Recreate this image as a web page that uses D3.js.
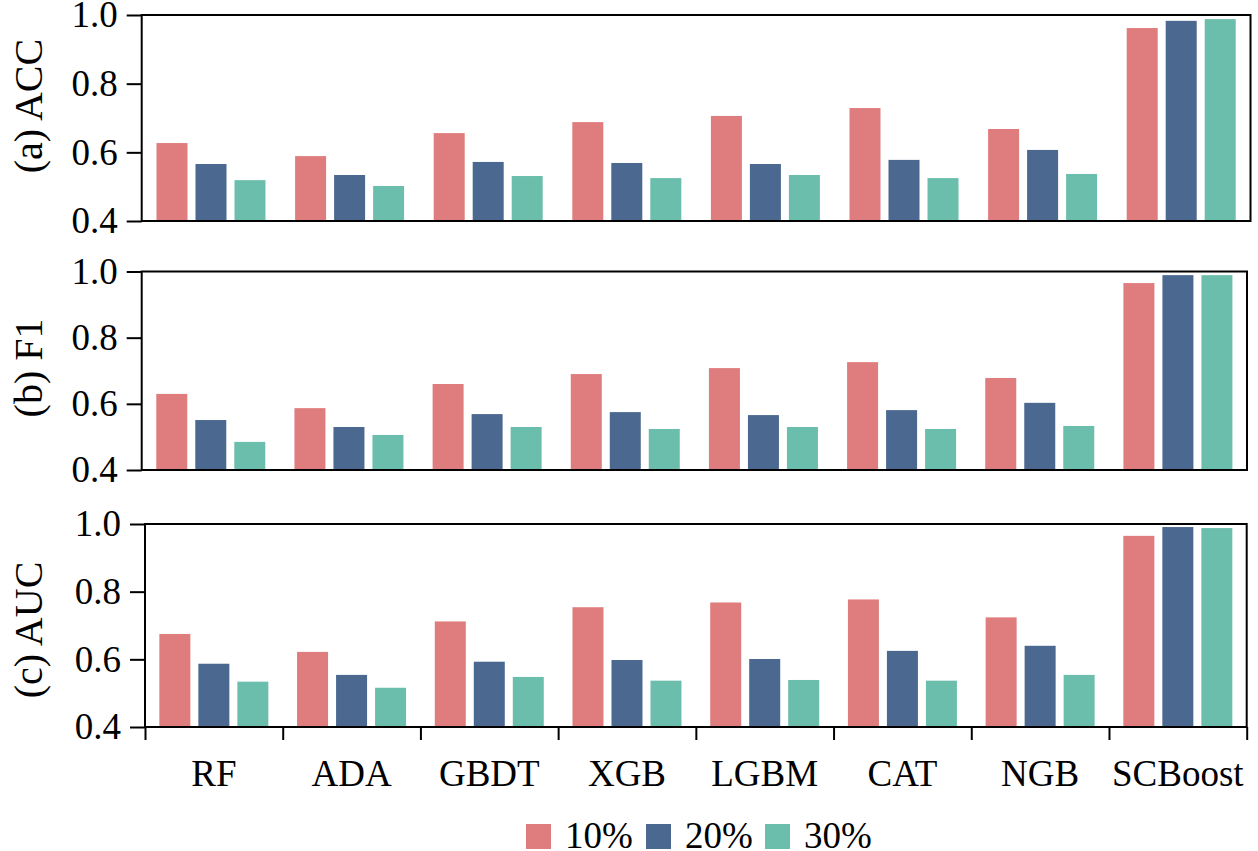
<!DOCTYPE html>
<html>
<head>
<meta charset="utf-8">
<script src="https://cdn.jsdelivr.net/npm/d3@7"></script>
<style>
  body { margin: 0; background: #fff; }
  svg { display: block; font-family: "Liberation Serif", "Times New Roman", serif; }
</style>
</head>
<body>
<svg id="chart" width="1258" height="851"></svg>
<script>
// ---- data ----
const categories = ["RF", "ADA", "GBDT", "XGB", "LGBM", "CAT", "NGB", "SCBoost"];
const seriesNames = ["10%", "20%", "30%"];
const yTicks = [0.4, 0.6, 0.8, 1.0];

const accValues = [
  [0.627, 0.589, 0.656, 0.688, 0.706, 0.729, 0.668, 0.962],
  [0.566, 0.534, 0.572, 0.569, 0.566, 0.578, 0.607, 0.983],
  [0.519, 0.502, 0.531, 0.525, 0.534, 0.525, 0.537, 0.988]
];
const f1Values = [
  [0.630, 0.587, 0.660, 0.690, 0.708, 0.726, 0.678, 0.965],
  [0.551, 0.530, 0.569, 0.575, 0.566, 0.581, 0.603, 0.989],
  [0.485, 0.506, 0.530, 0.524, 0.530, 0.524, 0.533, 0.989]
];
const aucValues = [
  [0.675, 0.622, 0.712, 0.754, 0.768, 0.777, 0.724, 0.965],
  [0.587, 0.554, 0.593, 0.598, 0.601, 0.625, 0.640, 0.991],
  [0.534, 0.516, 0.548, 0.537, 0.539, 0.537, 0.554, 0.988]
];
const panelLabels = ["(a) ACC", "(b) F1", "(c) AUC"];

// ---- styles / layout ----
const colors = ["#DF7C7D", "#4B6890", "#6CBEAC"];
const layout = [
  { x0: 141.7, x1: 1250.5, y0: 15, y1: 221, labelY: 106 },
  { x0: 141.7, x1: 1247, y0: 271.5, y1: 470, labelY: 368 },
  { x0: 145, x1: 1246.7, y0: 524, y1: 727, labelY: 630 }
];
const panelData = [accValues, f1Values, aucValues];
const barW = 31, barGap = 8;

const svg = d3.select("#chart");

panelData.forEach((vals, pi) => {
  const L = layout[pi];
  const g = svg.append("g");
  const x = d3.scaleBand().domain(categories).range([L.x0, L.x1]).padding(0);
  const groupSpan = 3 * barW + 2 * barGap;
  const xi = d3.scaleBand().domain(seriesNames)
    .range([(x.bandwidth() - groupSpan) / 2, (x.bandwidth() + groupSpan) / 2])
    .paddingInner(barGap / (barW + barGap)).paddingOuter(0);
  const y = d3.scaleLinear().domain([0.4, 1.0]).range([L.y1, L.y0]);

  // bars
  seriesNames.forEach((s, si) => {
    g.append("g").selectAll("rect")
      .data(vals[si])
      .join("rect")
      .attr("x", (d, i) => x(categories[i]) + xi(s))
      .attr("width", xi.bandwidth())
      .attr("y", d => y(d))
      .attr("height", d => y(0.4) - y(d))
      .attr("fill", colors[si]);
  });

  // y axis
  const ya = g.append("g")
    .attr("transform", `translate(${L.x0},0)`)
    .call(d3.axisLeft(y).tickValues(yTicks).tickFormat(d3.format(".1f")).tickSize(15).tickPadding(9));
  ya.select(".domain").remove();
  ya.selectAll(".tick line").attr("stroke", "#000").attr("stroke-width", 2);
  ya.selectAll(".tick text").attr("font-size", 37).attr("fill", "#000")
    .attr("font-family", "Liberation Serif, Times New Roman, serif");

  // frame
  g.append("rect")
    .attr("x", L.x0).attr("y", L.y0)
    .attr("width", L.x1 - L.x0).attr("height", L.y1 - L.y0)
    .attr("fill", "none").attr("stroke", "#000").attr("stroke-width", 2);

  // y label
  g.append("text")
    .attr("transform", `translate(42,${L.labelY}) rotate(-90)`)
    .attr("text-anchor", "middle")
    .attr("font-size", 40)
    .attr("fill", "#000")
    .text(panelLabels[pi]);

  // x axis on the last panel
  if (pi === panelData.length - 1) {
    const xb = d3.scaleLinear().domain([0, categories.length]).range([L.x0, L.x1]);
    const tickAx = g.append("g")
      .attr("transform", `translate(0,${L.y1})`)
      .call(d3.axisBottom(xb).tickValues(d3.range(categories.length + 1)).tickFormat("").tickSize(13));
    tickAx.select(".domain").remove();
    tickAx.selectAll(".tick line").attr("stroke", "#000").attr("stroke-width", 2);

    const labAx = g.append("g")
      .attr("transform", `translate(0,${L.y1})`)
      .call(d3.axisBottom(x).tickSize(0).tickPadding(33));
    labAx.select(".domain").remove();
    labAx.selectAll(".tick text").attr("font-size", 37).attr("fill", "#000")
      .attr("font-family", "Liberation Serif, Times New Roman, serif");
  }
});

// legend
const legendX = [526, 646, 765];
const leg = svg.append("g");
seriesNames.forEach((s, i) => {
  leg.append("rect").attr("x", legendX[i]).attr("y", 824).attr("width", 25).attr("height", 25)
    .attr("fill", colors[i]);
  leg.append("text").attr("x", legendX[i] + 39).attr("y", 848)
    .attr("font-size", 37).attr("fill", "#000").text(s);
});
</script>
</body>
</html>
